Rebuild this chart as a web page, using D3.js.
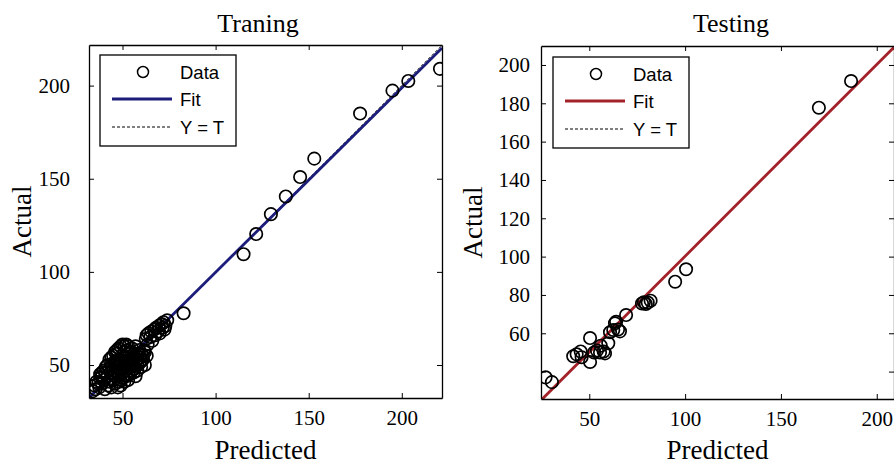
<!DOCTYPE html>
<html><head><meta charset="utf-8">
<script src="https://cdn.jsdelivr.net/npm/d3@7"></script>
<style>body{margin:0;background:#fff}svg{display:block}</style>
</head><body>
<svg id="chart" width="894" height="466"></svg>
<script>
// Training set: predicted vs actual
const trainPredicted = [34,35,36,35.5,37,38,37.5,39,40,40.5,41,42,42.5,43,43.5,44,44,45,45.5,46,46,47,47,47.5,48,48,48.5,49,49,49.5,50,50,50.5,51,51,51.5,52,52,52.5,53,53,53.5,54,54,54.5,55,55,55.5,56,56,56.5,57,57.5,58,58,58.5,59,59.5,60,60,61,61.5,62,
  44,45,46,47,48,49,50,51,52,53,47,46,45,43,44,46,48,50,52,54,56,58,60,62,42,41,40,39,38,43,55,57,59,61,63,57,53,49,51,39,
  62.5,63,63.5,64,65,65.5,66,67,67.5,68,69,69.5,70,71,71.5,72,73,74,72.5,
  82.8,115,121.8,129.7,137.7,145.4,153,177.6,195,203.5,220.5];
const trainActual = [36,39,41,37,40,43,38,44,42,37,46,44,39,48,46,50,43,47,51,49,44,52,47,38,50,45,53,48,42,51,55,46,49,52,57,47,54,50,58,45,52,56,49,54,51,57,47,53,50,55,48,52,55,50,53,56,51,54,52,56,55,58,57,
  54,55,57,58,59,60,61,60,61,60,56,52,42,41,38,40,41,43,44,45,46,47,49,50,50,49,47,46,45,53,59,60,58,53,55,44,42,39,41,40,
  64,66,61,67,65,68,63,69,66,70,68,71,67,72,70,73,71,74,69,
  77.8,109.5,120.3,131,140.5,150.9,160.8,185,197.3,202.5,209];

// Testing set: predicted vs actual
const testPredicted = [27.2,30.5,41.6,43.4,45.5,46,50.4,50.4,52.5,54,55.6,57.5,58.2,56,59.9,60.8,62.5,63.4,65,66,64,69.2,77.5,78.5,79.5,80.5,82,94.8,100.5,169.8,186.6];
const testActual    = [37,34.5,48,49,50.5,47.5,57.5,45,50,51,50,50.5,49.5,53.5,54.8,60.5,61.7,65.2,62,61,66,69.5,75.5,76.2,75.3,76,77,86.9,93.4,177.7,191.6];

// Linear fit coefficients (Actual = slope * Predicted + intercept)
const trainFit = [0.99, 0.8];
const testFit  = [1.0, 0.2];

// Axis limits and ticks
const trainXDomain = [32, 221.6];
const trainYDomain = [32.3, 221.8];
const testXDomain  = [24.8, 209];
const testYDomain  = [25.7, 209.9];
const trainXTicks = [50, 100, 150, 200];
const trainYTicks = [50, 100, 150, 200];
const testXTicks  = [50, 100, 150, 200];
const testYTicks  = [40, 60, 80, 100, 120, 140, 160, 180, 200];
const testYTickLabels = ["", "60", "80", "100", "120", "140", "160", "180", "200"];

const legendLabels = ["Data", "Fit", "Y = T"];

const svg = d3.select("#chart");
const serif = "'Liberation Serif','Times New Roman',serif";
const sans = "'Liberation Sans',Arial,sans-serif";

function panel(cfg) {
  const {left, top, size, xDomain, yDomain, xTicks, yTicks, yLabels, pred, act, fit, color, title, titleX, clipId, legend} = cfg;
  const x = d3.scaleLinear().domain(xDomain).range([left, left + size]);
  const y = d3.scaleLinear().domain(yDomain).range([top + size, top]);

  svg.append("clipPath").attr("id", clipId)
    .append("rect").attr("x", left).attr("y", top).attr("width", size).attr("height", size);

  const g = svg.append("g");
  const plot = g.append("g").attr("clip-path", `url(#${clipId})`);

  // Y = T reference (dashed)
  plot.append("line")
    .attr("x1", x(xDomain[0])).attr("y1", y(xDomain[0]))
    .attr("x2", x(xDomain[1])).attr("y2", y(xDomain[1]))
    .attr("stroke", "#000").attr("stroke-width", 1).attr("stroke-dasharray", "3,2");

  // Fit line
  const f = v => fit[0] * v + fit[1];
  plot.append("line")
    .attr("x1", x(xDomain[0])).attr("y1", y(f(xDomain[0])))
    .attr("x2", x(xDomain[1])).attr("y2", y(f(xDomain[1])))
    .attr("stroke", color).attr("stroke-width", 2.8);

  // Data points
  plot.selectAll("circle.pt").data(pred.map((p, i) => [p, act[i]]))
    .join("circle").attr("class", "pt")
    .attr("cx", d => x(d[0])).attr("cy", d => y(d[1])).attr("r", 6.2)
    .attr("fill", "none").attr("stroke", "#000").attr("stroke-width", 1.7);

  // Axes (inward ticks on all four sides)
  const fmtY = d => yLabels ? yLabels[yTicks.indexOf(d)] : d;
  const tickLen = 5;
  const styleAxis = a => {
    a.select(".domain").attr("stroke", "#000").attr("stroke-width", 1.3);
    a.selectAll(".tick line").attr("stroke", "#000").attr("stroke-width", 1);
    a.selectAll("text").attr("font-family", serif).attr("font-size", 21).attr("fill", "#000");
  };
  g.append("g").attr("transform", `translate(0,${top + size})`)
    .call(d3.axisBottom(x).tickValues(xTicks).tickSize(-tickLen).tickPadding(12).tickSizeOuter(0))
    .call(styleAxis);
  g.append("g").attr("transform", `translate(0,${top})`)
    .call(d3.axisTop(x).tickValues(xTicks).tickSize(-tickLen).tickFormat("").tickSizeOuter(0))
    .call(styleAxis);
  g.append("g").attr("transform", `translate(${left},0)`)
    .call(d3.axisLeft(y).tickValues(yTicks).tickSize(-tickLen).tickPadding(cfg.yPad).tickFormat(fmtY).tickSizeOuter(0))
    .call(styleAxis);
  g.append("g").attr("transform", `translate(${left + size},0)`)
    .call(d3.axisRight(y).tickValues(yTicks).tickSize(-tickLen).tickFormat("").tickSizeOuter(0))
    .call(styleAxis);

  // Title and axis labels
  g.append("text").attr("x", titleX).attr("y", 32).attr("text-anchor", "middle")
    .attr("font-family", serif).attr("font-size", 26).text(title);
  g.append("text").attr("x", left + size / 2).attr("y", 459).attr("text-anchor", "middle")
    .attr("font-family", serif).attr("font-size", 27).text("Predicted");
  g.append("text").attr("transform", `translate(${cfg.ylabX},${top + size / 2}) rotate(-90)`)
    .attr("text-anchor", "middle").attr("font-family", serif).attr("font-size", 27).text("Actual");

  // Legend
  const lg = g.append("g").attr("transform", `translate(${legend[0]},${legend[1]})`);
  lg.append("rect").attr("width", 136).attr("height", 91)
    .attr("fill", "#fff").attr("stroke", "#000").attr("stroke-width", 1.3);
  const rows = [17, 44, 72];
  lg.append("circle").attr("cx", 43).attr("cy", rows[0]).attr("r", 5.5)
    .attr("fill", "none").attr("stroke", "#000").attr("stroke-width", 1.5);
  lg.append("line").attr("x1", 12).attr("x2", 72).attr("y1", rows[1]).attr("y2", rows[1])
    .attr("stroke", color).attr("stroke-width", 3);
  lg.append("line").attr("x1", 12).attr("x2", 72).attr("y1", rows[2]).attr("y2", rows[2])
    .attr("stroke", "#000").attr("stroke-width", 1).attr("stroke-dasharray", "3,2");
  lg.selectAll("text.lbl").data(legendLabels).join("text").attr("class", "lbl")
    .attr("x", 80).attr("y", (d, i) => rows[i] + 7)
    .attr("font-family", sans).attr("font-size", 18.5).text(d => d);
}

panel({left: 89, top: 45, size: 353, xDomain: trainXDomain, yDomain: trainYDomain,
  xTicks: trainXTicks, yTicks: trainYTicks, yLabels: null, yPad: 19,
  pred: trainPredicted, act: trainActual, fit: trainFit, color: "#1c1c7a",
  title: "Traning", titleX: 258, clipId: "clipTrain", legend: [100, 55], ylabX: 31});

panel({left: 541, top: 46, size: 353, xDomain: testXDomain, yDomain: testYDomain,
  xTicks: testXTicks, yTicks: testYTicks, yLabels: testYTickLabels, yPad: 11,
  pred: testPredicted, act: testActual, fit: testFit, color: "#a3222a",
  title: "Testing", titleX: 731, clipId: "clipTest", legend: [553, 57], ylabX: 482});
</script>
</body></html>
